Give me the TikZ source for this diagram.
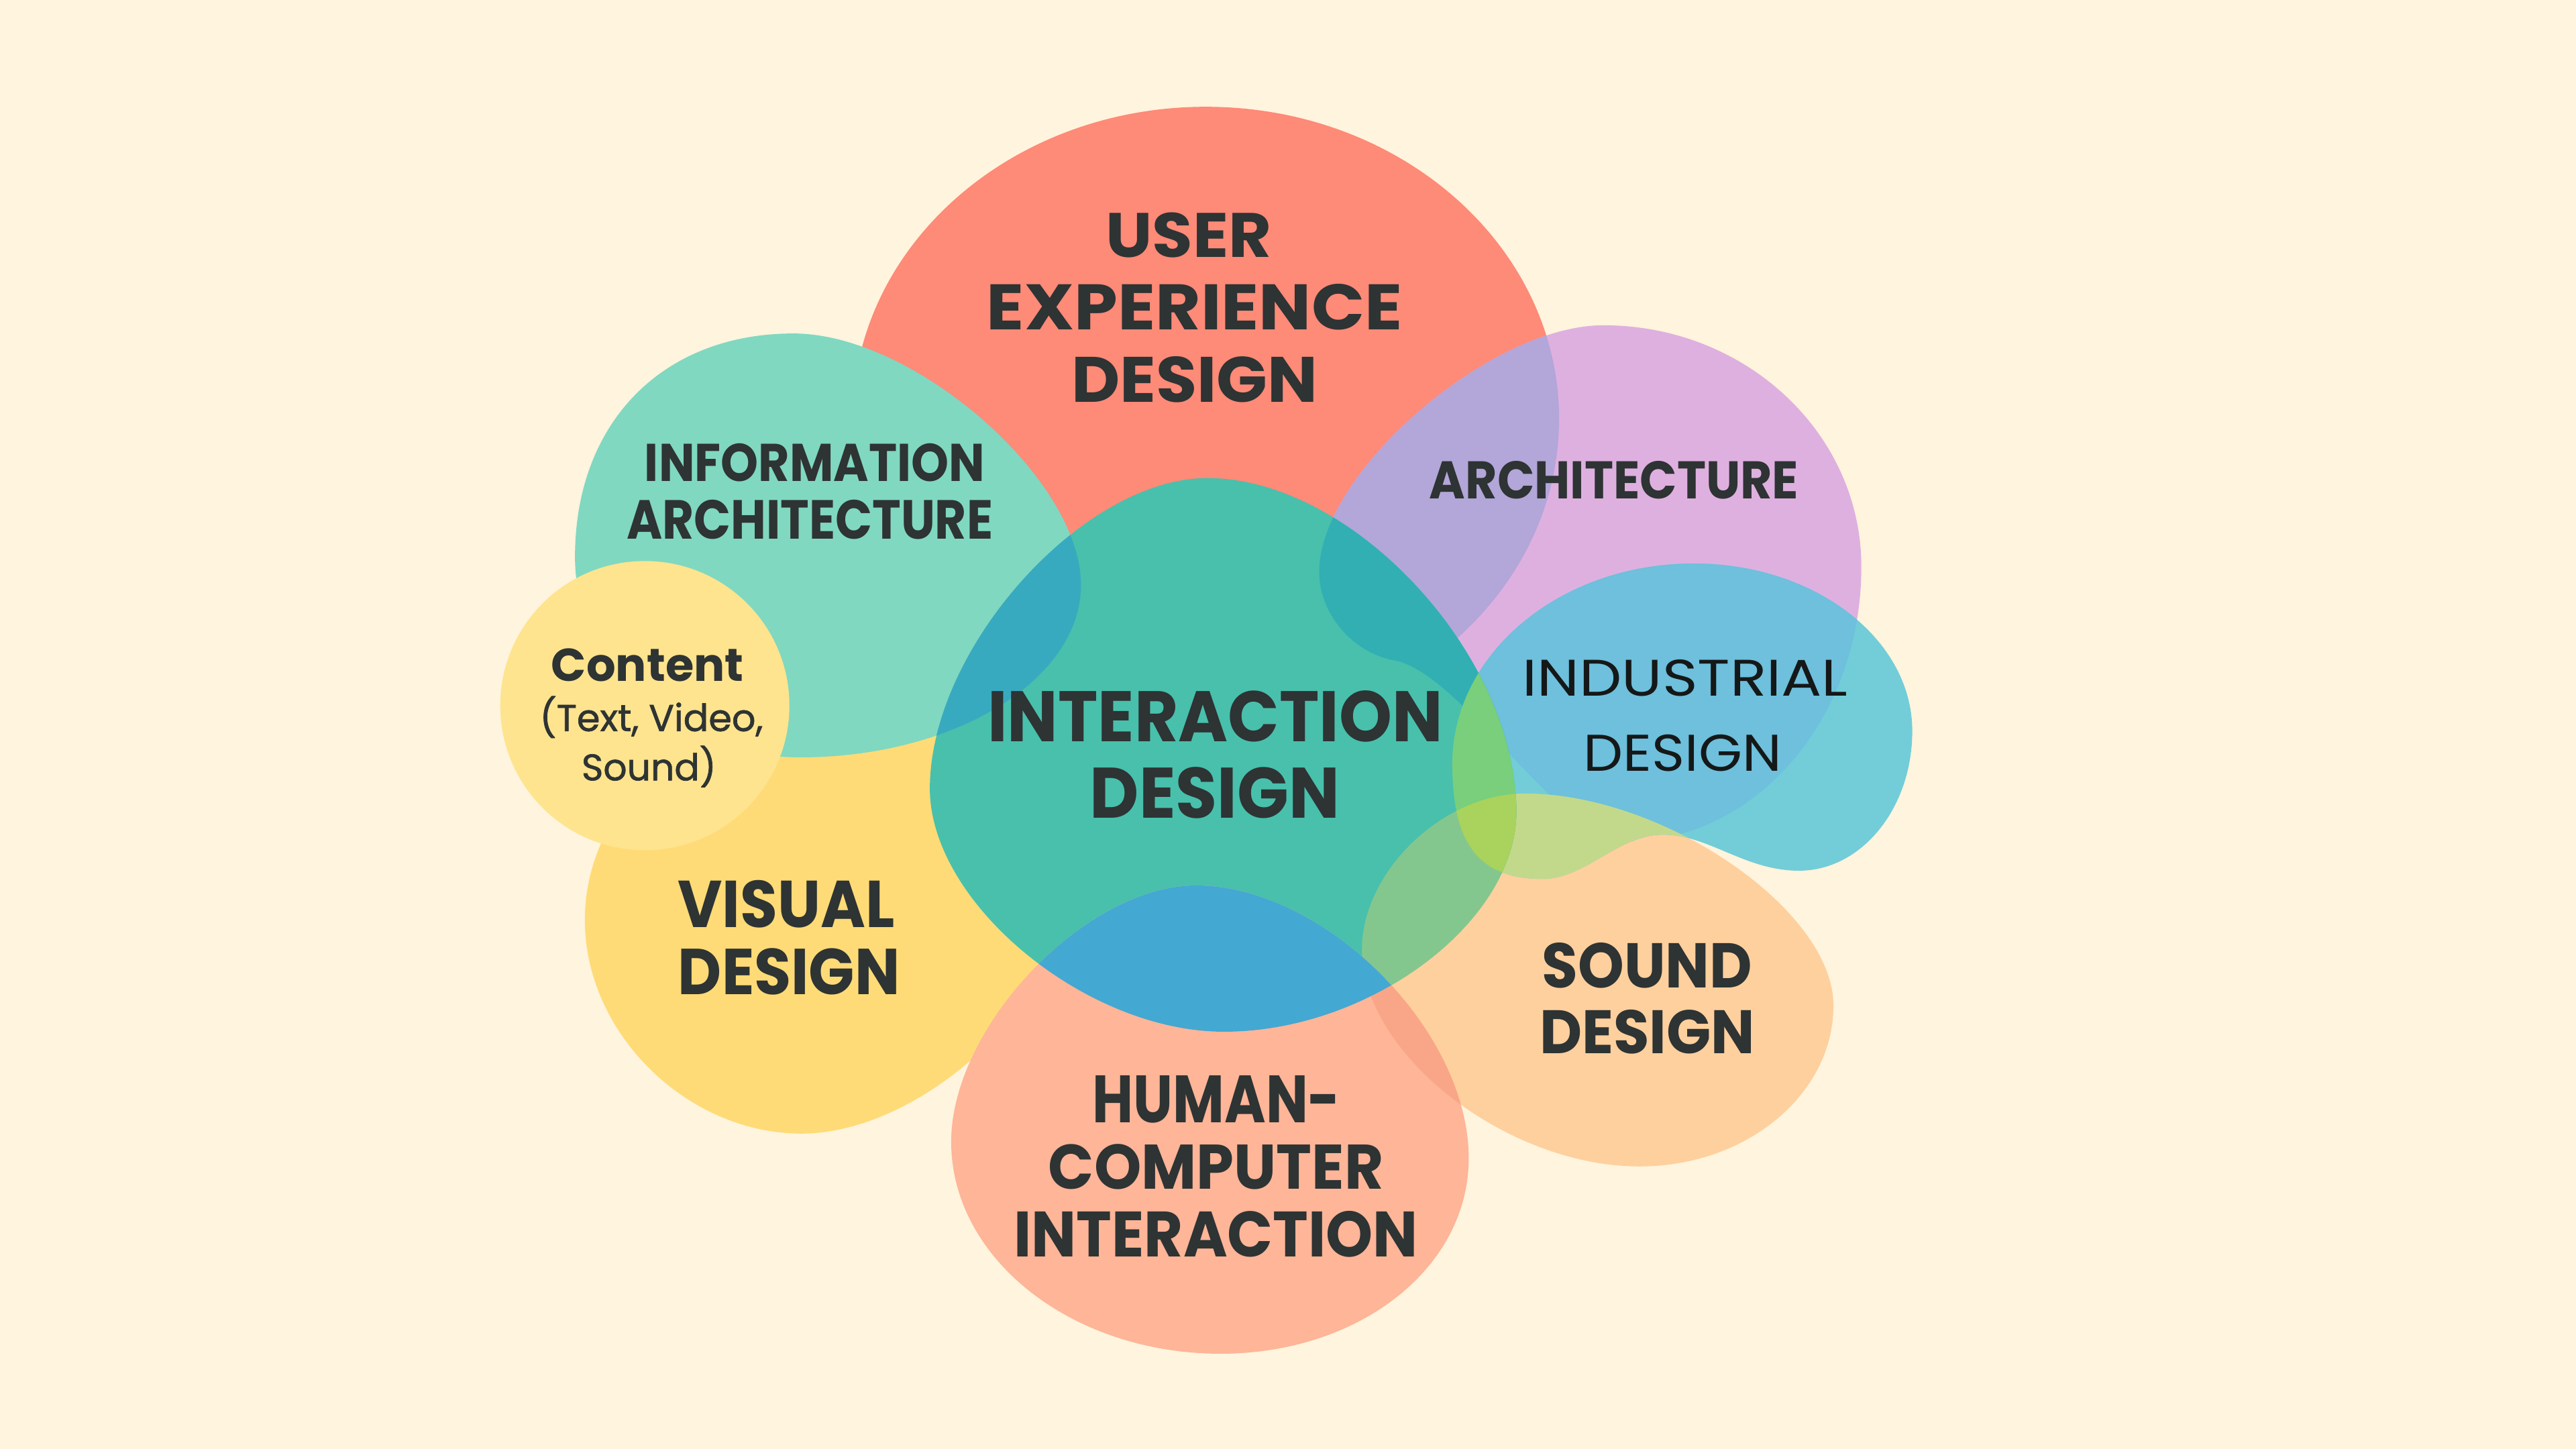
\documentclass[tikz,border=0pt]{standalone}
\usepackage{fontspec}
\setmainfont{Poppins}
\newfontfamily\popmed{Poppins}[FakeBold=1.2]
\usepackage{graphicx}
\definecolor{bgc}{HTML}{FFF4DD}
\definecolor{cux}{HTML}{FE8A78}
\definecolor{car}{HTML}{DEB0E0}
\definecolor{carux}{HTML}{B3A6D8}
\definecolor{cvis}{HTML}{FEDB77}
\definecolor{cia}{HTML}{80D8C0}
\definecolor{ccon}{HTML}{FEE48E}
\definecolor{csnd}{HTML}{FED09E}
\definecolor{cind}{HTML}{72CDD8}
\definecolor{cindar}{HTML}{6EC0DC}
\definecolor{cindsnd}{HTML}{C2D98C}
\definecolor{cint}{HTML}{48C0AC}
\definecolor{cintia}{HTML}{38AAC0}
\definecolor{cintar}{HTML}{32AFB3}
\definecolor{cintind}{HTML}{79CF7B}
\definecolor{cintsnd}{HTML}{84C78E}
\definecolor{ctri}{HTML}{A9D35C}
\definecolor{chci}{HTML}{FEB598}
\definecolor{chciint}{HTML}{43A8D2}
\definecolor{chcisnd}{HTML}{F9A688}
\definecolor{txt}{HTML}{2E3333}
\definecolor{txtb}{HTML}{151818}
\newlength\ux \setlength\ux{0.01cm}
\newcommand\fitlbl[3]{\resizebox{#1\ux}{#2\ux}{#3}}
\newcommand\fitw[2]{\resizebox{#1\ux}{!}{#2}}
% quarter-curve helpers: from a point with horizontal tangent to one with vertical tangent, and back
\newcommand\hv[5]{.. controls ({#1+#5*(#3-#1)},#2) and (#3,{#4+#5*(#2-#4)}) .. (#3,#4)}
\newcommand\vh[5]{.. controls (#1,{#2+#5*(#4-#2)}) and ({#3+#5*(#1-#3)},#4) .. (#3,#4)}
\newcommand\shUX{(734,255) ellipse[x radius=215, y radius=190]}
\newcommand\shAR{(976,198) \hv{976}{198}{1133}{345}{0.552} \vh{1133}{345}{990}{512}{0.552} .. controls (950,512) and (890,410) .. (849,402) .. controls (825,398) and (803,375) .. (803,348) \vh{803}{348}{976}{198}{0.4} -- cycle}
\newcommand\shIA{(483,203) \hv{483}{203}{658}{356}{0.42} \vh{658}{356}{487}{461}{0.55} \hv{487}{461}{350}{339}{0.552} \vh{350}{339}{483}{203}{0.6} -- cycle}
\newcommand\shVIS{(505,430) \hv{505}{430}{642}{555}{0.552} \vh{642}{555}{488}{690}{0.45} \hv{488}{690}{356}{560}{0.53} \vh{356}{560}{505}{430}{0.552} -- cycle}
\newcommand\shCON{(392.5,429.5) circle[radius=88]}
\newcommand\shSND{(928,483) \hv{928}{483}{1116}{612}{0.45} \vh{1116}{612}{998}{710}{0.552} \hv{998}{710}{829}{578}{0.48} \vh{829}{578}{928}{483}{0.5} -- cycle}
\newcommand\shIND{(1031,343) \hv{1031}{343}{1164}{445}{0.552} \vh{1164}{445}{1095}{530}{0.552} .. controls (1062,530) and (1040,508) .. (1012,508) .. controls (985,508) and (965,535) .. (939,535) \hv{939}{535}{884}{465}{0.7} \vh{884}{465}{1031}{343}{0.552} -- cycle}
\newcommand\shINT{(735,291) \hv{735}{291}{923}{494}{0.47} \vh{923}{494}{745}{628}{0.5} \hv{745}{628}{566}{480}{0.47} \vh{566}{480}{735}{291}{0.45} -- cycle}
\newcommand\shHCI{(728,539) \hv{728}{539}{894}{705}{0.47} \vh{894}{705}{743}{824}{0.56} \hv{743}{824}{579}{695}{0.552} \vh{579}{695}{728}{539}{0.45} -- cycle}
\tikzset{
  lab/.style={inner sep=0pt, anchor=base, text=txt, font=\bfseries},
  labr/.style={inner sep=0pt, anchor=base, text=txtb, font=\mdseries},
  labm/.style={inner sep=0pt, anchor=base, text=txt, font=\popmed},
}
\begin{document}
\begin{tikzpicture}[x=0.01cm,y=-0.01cm]
\useasboundingbox (0,0) rectangle (1568,882);
\fill[bgc] (0,0) rectangle (1568,882);
% base shapes
\fill[cux] \shUX;
\fill[car] \shAR;
\begin{scope}\clip \shUX; \fill[carux] \shAR; \end{scope}
\fill[cvis] \shVIS;
\fill[cia] \shIA;
\fill[ccon] \shCON;
\fill[csnd] \shSND;
\fill[cind] \shIND;
\begin{scope}\clip \shIND; \fill[cindar] \shAR; \end{scope}
\begin{scope}\clip \shIND; \fill[cindsnd] \shSND; \end{scope}
\fill[cint] \shINT;
\begin{scope}\clip \shINT; \fill[cintia] \shIA; \end{scope}
\begin{scope}\clip \shINT; \fill[cintar] \shAR; \end{scope}
\begin{scope}\clip \shINT; \fill[cintind] \shIND; \end{scope}
\begin{scope}\clip \shINT; \fill[cintsnd] \shSND; \end{scope}
\begin{scope}\clip \shINT; \clip \shIND; \fill[ctri] \shSND; \end{scope}
\fill[chci] \shHCI;
\begin{scope}\clip \shHCI; \fill[chcisnd] \shSND; \end{scope}
\begin{scope}\clip \shHCI; \fill[chciint] \shINT; \end{scope}
% labels
\node[lab] (uxA) at (723.6,156.8) {\fitlbl{101}{27.2}{USER}};
\node[lab] (uxB) at (727.1,200.5) {\fitlbl{253}{27.8}{EXPERIENCE}};
\node[lab] (uxC) at (727.2,244.8) {\fitlbl{150}{27.8}{DESIGN}};
\node[lab] (iaA) at (495.9,293) {\fitlbl{207}{23}{INFORMATION}};
\node[lab] (iaB) at (492.9,328.3) {\fitlbl{223}{23.8}{ARCHITECTURE}};
\node[lab] (arA) at (982.5,303.4) {\fitlbl{224.7}{22.9}{ARCHITECTURE}};
\node[lab] (coA) at (394.1,414.8) {\fitw{117}{Content}};
\node[labm] (coB) at (396.5,445) {\fitw{136}{(Text, Video,}};
\node[labm] (coC) at (395,475) {\fitw{82}{Sound)}};
\node[lab] (inA) at (739.7,451.4) {\fitlbl{277}{31}{INTERACTION}};
\node[lab] (inB) at (739.5,497.8) {\fitlbl{152}{31}{DESIGN}};
\node[labr] (idA) at (1025.8,423.7) {\fitlbl{198}{22.1}{INDUSTRIAL}};
\node[labr] (idB) at (1024.2,469.3) {\fitlbl{120.5}{22.2}{DESIGN}};
\node[lab] (viA) at (478.5,564.5) {\fitlbl{132}{28.7}{VISUAL}};
\node[lab] (viB) at (480.3,605.5) {\fitlbl{135}{28.1}{DESIGN}};
\node[lab] (sdA) at (1002.6,601.4) {\fitlbl{128}{27.4}{SOUND}};
\node[lab] (sdB) at (1002.7,641.3) {\fitlbl{131}{26.6}{DESIGN}};
\node[lab] (hcA) at (740.5,683.4) {\fitlbl{151}{28.6}{HUMAN-}};
\node[lab] (hcB) at (740.2,723.6) {\fitlbl{204}{27.3}{COMPUTER}};
\node[lab] (hcC) at (740.2,765.1) {\fitlbl{246}{27.8}{INTERACTION}};
\end{tikzpicture}
\end{document}
